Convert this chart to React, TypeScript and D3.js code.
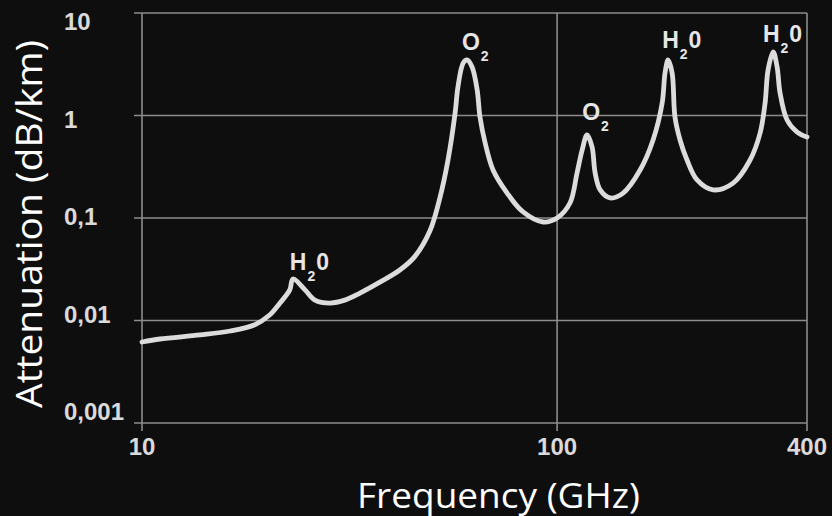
import React, { useRef, useEffect } from "react";
import * as d3 from "d3";

// specific attenuation
const freqs = [10, 11.05, 13.8, 16.3, 18.7, 20.3, 21.5, 22.7, 23.1, 24.7, 26.1, 28.4, 30.8, 33.5, 37.5, 41.8, 45.4, 49.4, 52.2, 54.6, 56.8, 57.7, 59.4, 60.7, 62.4, 64.2, 65.2, 67.1, 70.1, 75.8, 82.8, 92.5, 100, 107.4, 111.7, 114.9, 118.1, 121.4, 123.5, 127.0, 134.2, 144.2, 158.5, 170.3, 179.1, 182.0, 185.1, 189.3, 192.3, 197.8, 205.6, 217.4, 237.7, 265.5, 291.7, 308.4, 317.0, 322.3, 331.6, 338.9, 344.5, 358.2, 378.7, 400];
const atten = [0.00617, 0.0066, 0.00723, 0.0079, 0.0091, 0.0113, 0.0148, 0.0199, 0.0254, 0.0199, 0.0158, 0.0148, 0.0158, 0.0185, 0.0238, 0.0311, 0.042, 0.075, 0.157, 0.368, 1.06, 1.9, 3.25, 3.48, 2.97, 1.77, 0.967, 0.539, 0.294, 0.175, 0.1145, 0.0914, 0.1, 0.14, 0.275, 0.46, 0.645, 0.493, 0.275, 0.188, 0.157, 0.175, 0.294, 0.577, 1.32, 2.6, 3.48, 2.6, 0.967, 0.577, 0.368, 0.235, 0.188, 0.219, 0.368, 0.675, 1.32, 2.78, 4.17, 2.97, 1.66, 0.904, 0.69, 0.617];

const yTicks = [10, 1, 0.1, 0.01, 0.001];
const yTickLabels = ["10", "1", "0,1", "0,01", "0,001"];
const xTicks = [10, 100, 400];
const xTickLabels = ["10", "100", "400"];

// line labels: gas, frequency and attenuation where the label sits
const peakGas = ["H", "O", "O", "H", "H"];
const peakFreq = [22.7, 59.0, 114.9, 179.1, 313.2];
const peakAtten = [0.0311, 4.35, 0.903, 4.56, 5.21];

const width = 832;
const height = 516;
const margin = { top: 13, right: 25, bottom: 93, left: 142 };

export default function App() {
  const svgRef = useRef<SVGSVGElement>(null);

  useEffect(() => {
    document.body.style.margin = "0";
    document.body.style.background = "#0e0e0e";

    const svg = d3.select(svgRef.current);
    svg.selectAll("*").remove();

    const x = d3.scaleLog().domain([10, 400]).range([margin.left, width - margin.right]);
    const y = d3.scaleLog().domain([0.001, 10]).range([height - margin.bottom, margin.top]);

    svg.append("rect").attr("width", width).attr("height", height).attr("fill", "#0e0e0e");

    const grid = svg.append("g").attr("stroke", "#8c8c8c").attr("stroke-width", 1.6);
    grid.selectAll("line.h")
      .data(yTicks)
      .join("line")
      .attr("class", "h")
      .attr("x1", margin.left - 8)
      .attr("x2", width - margin.right)
      .attr("y1", (d) => y(d))
      .attr("y2", (d) => y(d));
    grid.selectAll("line.v")
      .data(xTicks)
      .join("line")
      .attr("class", "v")
      .attr("x1", (d) => x(d))
      .attr("x2", (d) => x(d))
      .attr("y1", margin.top)
      .attr("y2", height - margin.bottom + 8);

    // tick labels
    svg.append("g")
      .selectAll("text")
      .data(yTicks)
      .join("text")
      .attr("x", 64)
      .attr("y", (d, i) => y(d) + 17 - i * 5)
      .attr("font-family", "Liberation Sans, Arial, sans-serif")
      .attr("font-weight", "bold")
      .attr("font-size", 24)
      .attr("fill", "#dadada")
      .text((d, i) => yTickLabels[i]);

    svg.append("g")
      .selectAll("text")
      .data(xTicks)
      .join("text")
      .attr("x", (d) => x(d))
      .attr("y", 455)
      .attr("text-anchor", "middle")
      .attr("font-family", "Liberation Sans, Arial, sans-serif")
      .attr("font-weight", "bold")
      .attr("font-size", 24)
      .attr("fill", "#dadada")
      .text((d, i) => xTickLabels[i]);

    // attenuation curve
    const points: [number, number][] = freqs.map((f, i) => [f, atten[i]]);
    const line = d3.line<[number, number]>()
      .x((d) => x(d[0]))
      .y((d) => y(d[1]))
      .curve(d3.curveCatmullRom.alpha(0.5));

    svg.append("path")
      .datum(points)
      .attr("d", line)
      .attr("fill", "none")
      .attr("stroke", "#dcdcdc")
      .attr("stroke-width", 4.8)
      .attr("stroke-linejoin", "round")
      .attr("stroke-linecap", "round");

    // gas labels
    const lab = svg.append("g")
      .selectAll("text")
      .data(peakGas)
      .join("text")
      .attr("x", (d, i) => x(peakFreq[i]))
      .attr("y", (d, i) => y(peakAtten[i]))
      .attr("font-family", "Liberation Sans, Arial, sans-serif")
      .attr("font-weight", "bold")
      .attr("font-size", 23)
      .attr("fill", "#e6e6e6");
    lab.append("tspan").text((d) => d);
    lab.append("tspan").attr("font-size", 14).attr("dy", 11).attr("dx", 1).text("2");
    lab.filter((d) => d === "H").append("tspan").attr("dy", -11).attr("dx", 1).text("0");

    // axis titles
    svg.append("text")
      .attr("x", (margin.left + width - margin.right) / 2 + 24)
      .attr("y", 508)
      .attr("text-anchor", "middle")
      .attr("font-family", "Open Sans, sans-serif")
      .attr("font-size", 35)
      .attr("fill", "#ffffff")
      .attr("textLength", 283)
      .attr("lengthAdjust", "spacingAndGlyphs")
      .text("Frequency (GHz)");

    svg.append("text")
      .attr("transform", "translate(42,224) rotate(-90)")
      .attr("text-anchor", "middle")
      .attr("font-family", "Open Sans, sans-serif")
      .attr("font-size", 36)
      .attr("fill", "#ffffff")
      .attr("textLength", 368)
      .attr("lengthAdjust", "spacingAndGlyphs")
      .text("Attenuation (dB/km)");
  }, []);

  return (
    <div>
      <svg ref={svgRef} width={width} height={height} style={{ display: "block" }} />
    </div>
  );
}
